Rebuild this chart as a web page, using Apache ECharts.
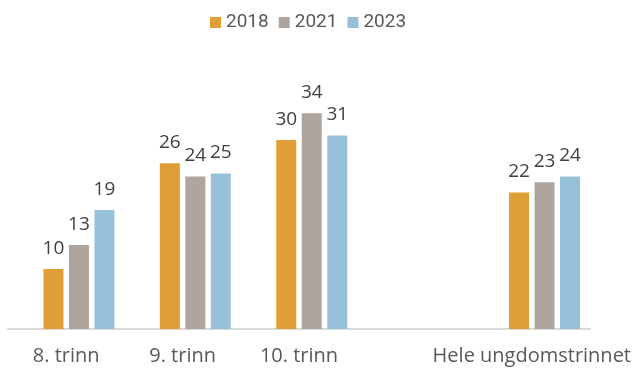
<!DOCTYPE html>
<html>
<head>
<meta charset="utf-8">
<script src="https://cdn.jsdelivr.net/npm/echarts@6/dist/echarts.min.js"></script>
<style>html,body{margin:0;padding:0;background:#fff}#c{width:639px;height:368px}</style>
</head>
<body>
<div id="c"></div>
<script>
// Categories (empty slot between 10. trinn and Hele ungdomstrinnet)
const categories = ['8. trinn', '9. trinn', '10. trinn', '', 'Hele ungdomstrinnet'];
const seriesNames = ['2018', '2021', '2023'];
// Values (labels show rounded values)
const values2018 = [9.5, 26.2, 29.9, null, 21.6];
const values2021 = [13.3, 24.1, 34.1, null, 23.2];
const values2023 = [18.8, 24.6, 30.6, null, 24.1];
// Empty placeholder series (reserves the first bar slot in each group)
const spacer = [null, null, null, null, null];

const colors = ['#DF9E36', '#ADA59E', '#97C1DB'];

const chart = echarts.init(document.getElementById('c'), null, {renderer: 'canvas'});

const labelStyle = {
  show: true,
  position: 'top',
  distance: 11,
  fontFamily: 'Open Sans',
  fontSize: 19,
  color: '#404040',
  formatter: p => Math.round(p.value)
};

const dataSeries = [values2018, values2021, values2023].map((vals, i) => ({
  name: seriesNames[i],
  type: 'bar',
  data: vals,
  barWidth: 20,
  barGap: '27.5%',
  itemStyle: {color: colors[i]},
  label: labelStyle,
  animation: false
}));

chart.setOption({
  animation: false,
  legend: {
    data: seriesNames,
    left: 205,
    top: 8,
    icon: 'rect',
    itemWidth: 11,
    itemHeight: 11,
    itemGap: 10,
    textStyle: {fontFamily: 'Roboto', fontSize: 19, color: '#595959'}
  },
  grid: {left: 8, right: 49, top: 76, height: 253, containLabel: false},
  xAxis: {
    type: 'category',
    data: categories,
    axisLine: {lineStyle: {color: '#D9D9D9', width: 2}},
    axisTick: {show: false},
    axisLabel: {
      interval: 0,
      margin: 17,
      fontFamily: 'Open Sans',
      fontSize: 20,
      color: '#595959'
    }
  },
  yAxis: {
    type: 'value',
    min: 0,
    max: 40,
    show: false,
    splitLine: {show: false}
  },
  series: [{
    name: 'spacer',
    type: 'bar',
    data: spacer,
    barWidth: 20,
    barGap: '27.5%',
    silent: true
  }].concat(dataSeries)
});
</script>
</body>
</html>
